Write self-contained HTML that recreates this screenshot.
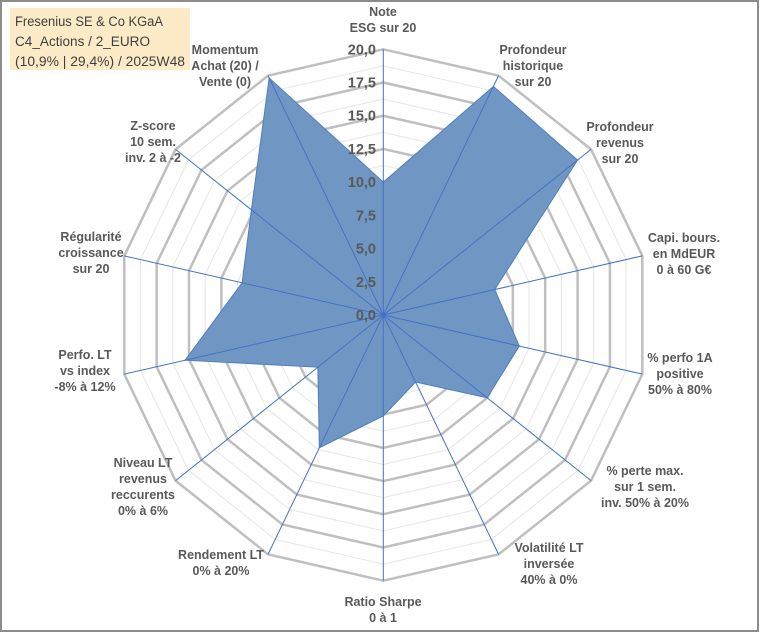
<!DOCTYPE html>
<html><head><meta charset="utf-8"><style>
body{margin:0;background:#fff;}
#wrap{position:relative;width:760px;height:633px;overflow:hidden;}
svg{position:absolute;left:0;top:0;}
</style></head><body>
<div id="wrap">
<svg id="chart" width="760" height="633"></svg>
</div>
<script>
const categories=[["Note","ESG sur 20"],["Profondeur","historique","sur 20"],["Profondeur","revenus","sur 20"],["Capi. bours.","en MdEUR","0 à 60 G€"],["% perfo 1A","positive","50% à 80%"],["% perte max.","sur 1 sem.","inv. 50% à 20%"],["Volatilité LT","inversée","40% à 0%"],["Ratio Sharpe","0 à 1"],["Rendement LT","0% à 20%"],["Niveau LT","revenus","reccurents","0% à 6%"],["Perfo. LT","vs index","-8% à 12%"],["Régularité","croissance","sur 20"],["Z-score","10 sem.","inv. 2 à -2"],["Momentum","Achat (20) /","Vente (0)"]];
const values=[10.0,19.1,18.7,8.6,10.5,10.0,5.6,7.6,11.1,6.3,15.3,10.9,12.7,19.8];
const tickLabels=["0,0","2,5","5,0","7,5","10,0","12,5","15,0","17,5","20,0"];
const tickValues=[0,2.5,5,7.5,10,12.5,15,17.5,20];
const maxV=20;
const labelPos=[[383,12],[533,50],[620,127],[684,238],[680,358],[645,471],[549,548],[383,602],[221,555],[143,463],[85,355],[91,237],[153,126],[225,50]];

const NS="http://www.w3.org/2000/svg";
const svg=document.getElementById('chart');
const cx=383.3,cy=315,R=265.7,N=categories.length;
function ang(i){return -Math.PI/2+i*2*Math.PI/N;}
function pt(i,v){const r=v/maxV*R;return [cx+r*Math.cos(ang(i)),cy+r*Math.sin(ang(i))];}
function mk(t,a){const e=document.createElementNS(NS,t);for(const k in a)e.setAttribute(k,a[k]);svg.appendChild(e);return e;}

let b=mk('rect',{x:1,y:1,width:757,height:630,fill:'#fff',stroke:'#8c8c8c','stroke-width':2});



for(let k=1;k<=16;k++){
  const v=k*1.25; const major=(k%2===0);
  const pts=[];for(let i=0;i<N;i++)pts.push(pt(i,v).join(','));
  const p=mk('polygon',{points:pts.join(' '),fill:'none',stroke:major?'#bfbfbf':'#e6e6e6','stroke-width':major?2.5:1});
  
  
}
const sp=values.map((v,i)=>pt(i,v).join(',')).join(' ');
const area=mk('polygon',{points:sp,fill:'rgb(112,150,196)',stroke:'#4f7fbf','stroke-width':1});


for(let i=0;i<N;i++){
  const [x,y]=pt(i,maxV);
  const l=mk('line',{x1:cx,y1:cy,x2:x,y2:y,stroke:'#4472c4','stroke-width':1});
  
  
}
tickValues.forEach((v,k)=>{
  const y=cy-v/maxV*R;
  const t=mk('text',{x:376,y:y+5,'text-anchor':'end','font-family':'Liberation Sans, sans-serif','font-size':14.5,'font-weight':'bold',fill:'#595959'});
  t.textContent=tickLabels[k];
  
  
});
categories.forEach((lines,i)=>{
  const [x,y]=labelPos[i];
  const t=mk('text',{'text-anchor':'middle','font-family':'Liberation Sans, sans-serif','font-size':12.5,'font-weight':'bold',fill:'#595959'});
  lines.forEach((s,j)=>{const ts=document.createElementNS(NS,'tspan');ts.setAttribute('x',x);ts.setAttribute('y',y+4+j*16);ts.textContent=s;t.appendChild(ts);});
  
  
});
const tb=mk('rect',{x:10,y:8,width:180,height:62,fill:'#fdebc8'});


["Fresenius SE & Co KGaA","C4_Actions / 2_EURO","(10,9% | 29,4%) / 2025W48"].forEach((s,j)=>{
  const t=mk('text',{x:15,y:26+j*20,'font-family':'Liberation Sans, sans-serif','font-size':13.5,fill:'#404040',textLength:j==2?170:(j==0?148:135),lengthAdjust:'spacingAndGlyphs'});
  t.textContent=s;
  
  
});
</script>
</body></html>
